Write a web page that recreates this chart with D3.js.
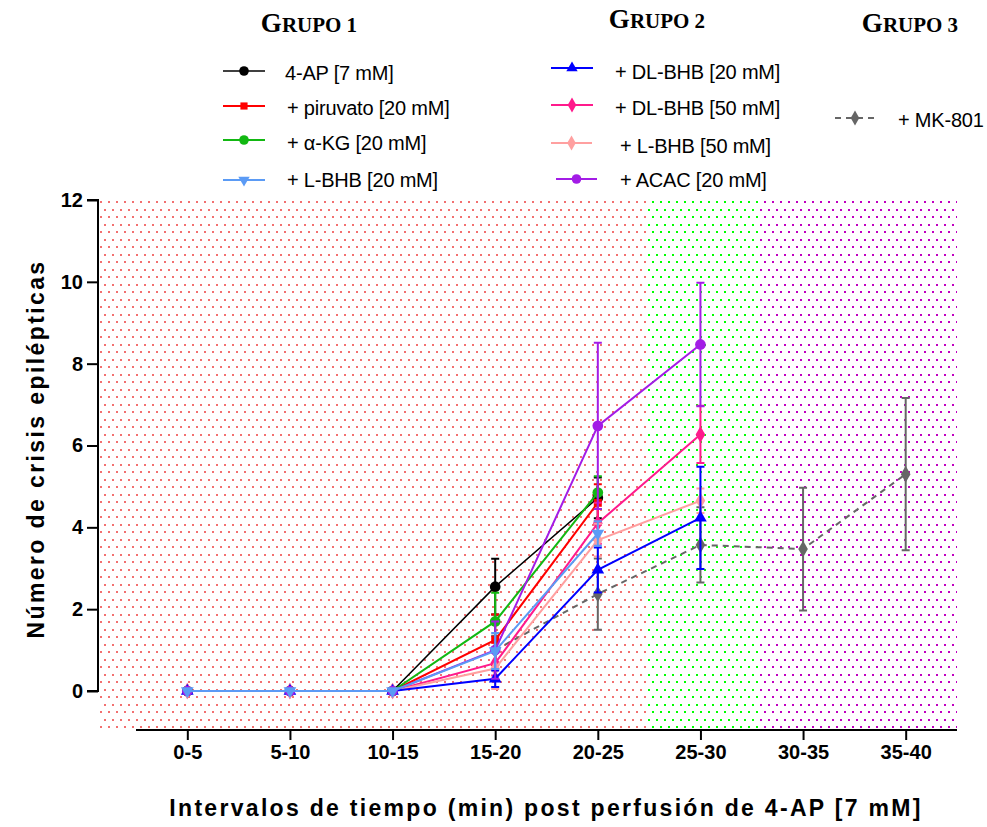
<!DOCTYPE html>
<html>
<head>
<meta charset="utf-8">
<script src="https://cdn.jsdelivr.net/npm/d3@7"></script>
<style>
  body { margin: 0; background: #fff; }
  text { font-family: "Liberation Sans", Arial, sans-serif; }
</style>
</head>
<body>
<svg width="987" height="827"></svg>
<script>
// categorias del eje x
var cats = ["0-5", "5-10", "10-15", "15-20", "20-25", "25-30", "30-35", "35-40"]
var yTicks = [0, 2, 4, 6, 8, 10, 12]

// medias y errores (SEM)
var ap4 = [0, 0, 0, 2.55, 4.72, null, null, null]
var ap4Err = [0, 0, 0, 0.68, 0.5, null, null, null]
var piruvato = [0, 0, 0, 1.25, 4.6, null, null, null]
var piruvatoErr = [0, 0, 0, 0.62, 0.45, null, null, null]
var akg = [0, 0, 0, 1.7, 4.85, null, null, null]
var akgErr = [0, 0, 0, 0.7, 0.4, null, null, null]
var lbhb20 = [0, 0, 0, 0.98, 3.85, null, null, null]
var lbhb20Err = [0, 0, 0, 0.44, 0.3, null, null, null]
var dlbhb20 = [0, 0, 0, 0.3, 2.96, 4.23, null, null]
var dlbhb20Err = [0, 0, 0, 0.2, 0.55, 1.25, null, null]
var dlbhb50 = [0, 0, 0, 0.68, 4.1, 6.27, null, null]
var dlbhb50Err = [0, 0, 0, 0.3, 0.5, 0.7, null, null]
var lbhb50 = [0, 0, 0, 0.55, 3.69, 4.65, null, null]
var lbhb50Err = [0, 0, 0, 0.5, 0.4, 0.3, null, null]
var acac = [0, 0, 0, 1.0, 6.48, 8.47, null, null]
var acacErr = [0, 0, 0, 0.7, 2.03, 1.51, null, null]
var mk801 = [null, null, null, 1.0, 2.37, 3.57, 3.47, 5.3]
var mk801Err = [null, null, null, 0.35, 0.87, 0.92, 1.5, 1.86]

var svg = d3.select("svg")

var scX = d3.scalePoint().domain(cats).range([136, 957]).padding(0.5)
var scY = d3.scaleLinear().domain([0, 12]).range([691, 200])
var step = scX.step()
var xi = i => scX(cats[0]) + i * step

// fondo punteado por grupos
var defs = svg.append("defs")
var patterns = [["dotPink", "#f27070"], ["dotGreen", "#00ff00"], ["dotPurple", "#c000c0"]]
patterns.forEach(function (p) {
    var pat = defs.append("pattern").attr("id", p[0])
        .attr("patternUnits", "userSpaceOnUse")
        .attr("x", 100).attr("y", 201)
        .attr("width", 8).attr("height", 15)
    pat.append("rect").attr("x", 0).attr("y", 0).attr("width", 2).attr("height", 2)
        .attr("fill", p[1]).attr("shape-rendering", "crispEdges")
    pat.append("rect").attr("x", 4).attr("y", 7.5).attr("width", 2).attr("height", 2)
        .attr("fill", p[1]).attr("shape-rendering", "crispEdges")
})

var bands = [[-0.865, 4.48, "dotPink"], [4.48, 5.57, "dotGreen"], [5.57, 7.5, "dotPurple"]]
svg.append("g").selectAll("rect").data(bands).enter().append("rect")
    .attr("x", d => xi(d[0]))
    .attr("width", d => xi(d[1]) - xi(d[0]))
    .attr("y", scY(12))
    .attr("height", scY(-0.93) - scY(12))
    .attr("fill", d => "url(#" + d[2] + ")")

// ejes
var yAxis = svg.append("g").attr("transform", "translate(98,0)")
    .call(d3.axisLeft(scY).tickValues(yTicks).tickSize(11).tickPadding(4).tickFormat(d3.format("d")))
var xAxis = svg.append("g").attr("transform", "translate(0,730)")
    .call(d3.axisBottom(scX).tickSize(10).tickPadding(5).tickSizeOuter(0))
svg.selectAll(".domain, .tick line").attr("stroke", "#000").attr("stroke-width", 2)
yAxis.select(".domain").attr("d", "M-11," + scY(12) + "H0V" + scY(0) + "H-11")
xAxis.select(".domain").attr("d", "M136,0H957")
svg.selectAll(".tick text").attr("fill", "#000")
    .style("font-family", "'Liberation Sans', Arial, sans-serif")
    .style("font-weight", "bold").style("font-size", "20px")

svg.append("text").attr("x", 546).attr("y", 816).attr("text-anchor", "middle")
    .style("font-weight", "bold").style("font-size", "23px").style("letter-spacing", "2.3px")
    .text("Intervalos de tiempo (min) post perfusión de 4-AP [7 mM]")
svg.append("text").attr("transform", "translate(44,449) rotate(-90)").attr("text-anchor", "middle")
    .style("font-weight", "bold").style("font-size", "23px").style("letter-spacing", "2.4px")
    .text("Número de crisis epilépticas")

// series
var series = [
    { name: "+ MK-801", v: mk801, e: mk801Err, color: "#666666", sym: d3.symbolDiamond, size: 80, dash: "6,5" },
    { name: "4-AP [7 mM]", v: ap4, e: ap4Err, color: "#000000", sym: d3.symbolCircle, size: 90, w: 1.5 },
    { name: "+ piruvato [20 mM]", v: piruvato, e: piruvatoErr, color: "#ff0000", sym: d3.symbolSquare, size: 64 },
    { name: "+ \u03b1-KG [20 mM]", v: akg, e: akgErr, color: "#12b812", sym: d3.symbolCircle, size: 90 },
    { name: "+ DL-BHB [50 mM]", v: dlbhb50, e: dlbhb50Err, color: "#ff1a8c", sym: d3.symbolDiamond, size: 80 },
    { name: "+ L-BHB [50 mM]", v: lbhb50, e: lbhb50Err, color: "#ffa0a0", sym: d3.symbolDiamond, size: 80 },
    { name: "+ DL-BHB [20 mM]", v: dlbhb20, e: dlbhb20Err, color: "#0000ff", sym: d3.symbolTriangle, size: 70 },
    { name: "+ ACAC [20 mM]", v: acac, e: acacErr, color: "#a31ce6", sym: d3.symbolCircle, size: 90 },
    { name: "+ L-BHB [20 mM]", v: lbhb20, e: lbhb20Err, color: "#5b9bf5", sym: d3.symbolTriangle, size: 70, flip: true }
]

var lineMk = d3.line()
    .defined(d => d.v != null)
    .x(d => scX(d.c)).y(d => scY(d.v))

series.forEach(function (s) {
    var pts = cats.map((c, i) => ({ c: c, v: s.v[i], e: s.e[i] }))
    var g = svg.append("g")
    g.append("path").attr("fill", "none").attr("stroke", s.color)
        .attr("stroke-width", s.w || 2).attr("stroke-dasharray", s.dash || null)
        .attr("d", lineMk(pts))
    var ep = pts.filter(d => d.v != null && d.e > 0)
    g.selectAll("path.eb").data(ep).enter().append("path").attr("class", "eb")
        .attr("fill", "none").attr("stroke", s.color).attr("stroke-width", 2)
        .attr("d", function (d) {
            var x = scX(d.c), y1 = scY(d.v + d.e), y0 = scY(d.v - d.e)
            return "M" + (x - 4) + "," + y1 + "H" + (x + 4) + "M" + x + "," + y1 + "V" + y0 + "M" + (x - 4) + "," + y0 + "H" + (x + 4)
        })
    g.selectAll("path.mk").data(pts.filter(d => d.v != null)).enter().append("path").attr("class", "mk")
        .attr("fill", s.color)
        .attr("transform", d => "translate(" + scX(d.c) + "," + scY(d.v) + ")" + (s.flip ? " rotate(180)" : ""))
        .attr("d", d3.symbol().type(s.sym).size(s.size))
})

// titulos de grupo
var groups = [["G", "RUPO 1", 309, 32], ["G", "RUPO 2", 657, 28], ["G", "RUPO 3", 910, 32]]
groups.forEach(function (g) {
    var t = svg.append("text").attr("x", g[2]).attr("y", g[3]).attr("text-anchor", "middle")
        .style("font-family", "'Liberation Serif', 'Times New Roman', serif")
        .style("font-weight", "bold")
    t.append("tspan").style("font-size", "27px").text(g[0])
    t.append("tspan").style("font-size", "21px").text(g[1])
})

// leyenda
var legend = [
    ["4-AP [7 mM]", 223, 265, 71, 285, 80],
    ["+ piruvato [20 mM]", 223, 265, 106, 287, 115],
    ["+ \u03b1-KG [20 mM]", 223, 265, 140, 287, 150],
    ["+ L-BHB [20 mM]", 223, 265, 180, 287, 187],
    ["+ DL-BHB [20 mM]", 551, 593, 68, 615, 79],
    ["+ DL-BHB [50 mM]", 551, 593, 105, 615, 115],
    ["+ L-BHB [50 mM]", 551, 592, 143, 620, 153],
    ["+ ACAC [20 mM]", 556, 597, 179, 620, 187],
    ["+ MK-801", 835, 875, 118, 898, 127]
]
legend.forEach(function (l) {
    var s = series.find(d => d.name == l[0])
    svg.append("line").attr("x1", l[1]).attr("x2", l[2]).attr("y1", l[3]).attr("y2", l[3])
        .attr("stroke", s.color).attr("stroke-width", s.w || 2).attr("stroke-dasharray", s.dash || null)
    svg.append("path").attr("fill", s.color)
        .attr("transform", "translate(" + (l[1] + l[2]) / 2 + "," + l[3] + ")" + (s.flip ? " rotate(180)" : ""))
        .attr("d", d3.symbol().type(s.sym).size(s.size * 0.8))
    svg.append("text").attr("x", l[4]).attr("y", l[5]).style("font-size", "20px")
        .style("letter-spacing", "-0.2px").text(l[0])
})
</script>
</body>
</html>
